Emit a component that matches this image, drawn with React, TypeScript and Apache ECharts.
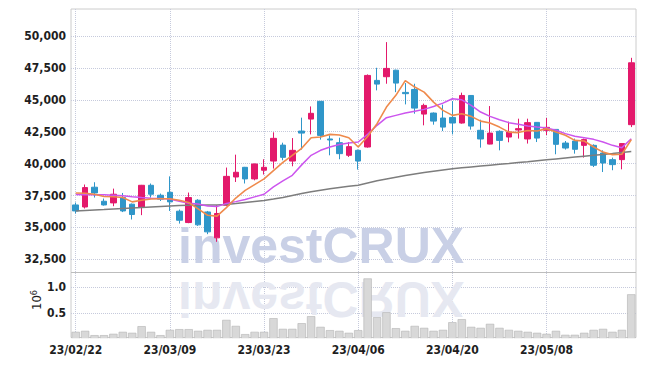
import React, { useEffect, useRef } from "react";
import * as echarts from "echarts";

const dates = [
  "23/02/22", "23/02/23", "23/02/24", "23/02/27", "23/02/28",
  "23/03/02", "23/03/03", "23/03/06", "23/03/07", "23/03/08",
  "23/03/09", "23/03/10", "23/03/13", "23/03/14", "23/03/15",
  "23/03/16", "23/03/17", "23/03/20", "23/03/21", "23/03/22",
  "23/03/23", "23/03/24", "23/03/27", "23/03/28", "23/03/29",
  "23/03/30", "23/03/31", "23/04/03", "23/04/04", "23/04/05",
  "23/04/06", "23/04/07", "23/04/10", "23/04/11", "23/04/12",
  "23/04/13", "23/04/14", "23/04/17", "23/04/18", "23/04/19",
  "23/04/20", "23/04/21", "23/04/24", "23/04/25", "23/04/26",
  "23/04/27", "23/04/28", "23/05/02", "23/05/03", "23/05/04",
  "23/05/08", "23/05/09", "23/05/10", "23/05/11", "23/05/12",
  "23/05/15", "23/05/16", "23/05/17", "23/05/18", "23/05/19",
];

const opens = [
  36760, 36600, 38150, 37050, 36920, 37340, 36820, 36560, 38300, 37520,
  37750, 36270, 35380, 37130, 36210, 34180, 36740, 38950, 39710, 38800,
  39480, 40200, 41450, 40200, 42550, 43490, 44880, 41930, 41640, 40650,
  41040, 41300, 46520, 46810, 47320, 45580, 45810, 43880, 43960, 43570,
  43620, 43180, 45340, 42610, 41530, 42530, 42080, 42630, 41930, 43230,
  42610, 42680, 41610, 41770, 41430, 41430, 40830, 40310, 40310, 43050,
];
const closes = [
  36290, 38120, 37700, 36760, 37600, 36290, 36010, 38300, 37600, 37210,
  37000, 35560, 37340, 35200, 34650, 36090, 39000, 39320, 38800, 39970,
  39710, 41980, 40490, 41040, 42390, 43940, 42210, 41850, 40780, 41330,
  40200, 46910, 46230, 47460, 46310, 45480, 44350, 44560, 43330, 42860,
  43180, 45340, 42940, 41930, 42390, 41820, 42470, 42740, 43210, 42000,
  42840, 41510, 41220, 41120, 41880, 39870, 40050, 39920, 41570, 47900,
];
const lows = [
  36090, 36480, 37340, 36710, 36660, 36200, 35620, 35960, 37340, 37070,
  36290, 35300, 35330, 35120, 34470, 33870, 36700, 38560, 38440, 38690,
  39140, 39610, 40260, 39790, 41100, 42290, 41880, 40650, 40340, 40520,
  39530, 41250, 45740, 46260, 45600, 44640, 43910, 43000, 43050, 42550,
  42290, 43130, 42660, 41250, 41510, 41040, 41670, 41960, 41570, 41690,
  42240, 40730, 41100, 40780, 40470, 39730, 39340, 39480, 39550, 42860,
];
const highs = [
  36950, 38360, 38540, 37260, 38040, 37700, 36870, 38330, 38440, 37650,
  39000, 36400, 37730, 37210, 36290, 36740, 39690, 40700, 39740, 40000,
  40340, 42450, 41640, 42000, 43600, 44480, 44900, 42210, 42030, 41690,
  41100, 46990, 47510, 49520, 47360, 46310, 46260, 44700, 44010, 44620,
  44900, 45560, 45370, 43440, 44510, 42610, 43290, 43520, 43520, 43260,
  43570, 42700, 41770, 41960, 41960, 41510, 41040, 40470, 41610, 48290,
];

const ma5 = [
  37700, 37680, 37600, 37420, 37400, 37340, 37000, 37130, 37230, 37240,
  37250, 37130, 36950, 36450, 35950, 35880, 36550, 37300, 37900, 38350,
  38800, 39450, 40100, 40650, 41200, 42030, 42080, 42290, 42240, 42030,
  41300, 42130, 43130, 44430, 45350, 46500, 46000, 45600, 44820, 44170,
  43780, 43910, 43700, 43330, 43180, 42860, 42470, 42430, 42600, 42550,
  42740, 42470, 42220, 41820, 41770, 41300, 40900, 40700, 40730, 41880,
];
const ma10 = [
  37570, 37550, 37550, 37550, 37520, 37480, 37400, 37340, 37290, 37260,
  37220, 37050, 36900, 36830, 36680, 36630, 36880, 37020, 37180, 37390,
  37600, 38170, 38640, 39080, 39900, 40650, 41040, 41300, 41490, 41610,
  41690, 42290, 43000, 43600, 43780, 43960, 44110, 44250, 44480, 44740,
  45080, 45000, 44560, 44040, 43700, 43440, 43210, 43080, 42950, 42860,
  42790, 42610, 42350, 42140, 42030, 41900, 41690, 41430, 41250, 41950,
];
const ma60 = [
  36290, 36330, 36370, 36400, 36440, 36480, 36520, 36560, 36600, 36640,
  36680, 36710, 36730, 36740, 36750, 36760, 36800, 36870, 36950, 37030,
  37100, 37220, 37350, 37500, 37650, 37800, 37920, 38030, 38130, 38220,
  38300, 38480, 38650, 38800, 38930, 39060, 39180, 39300, 39400, 39500,
  39600, 39670, 39740, 39810, 39880, 39950, 40010, 40080, 40150, 40230,
  40300, 40370, 40440, 40510, 40580, 40650, 40720, 40790, 40870, 40950,
];

// volume in millions of shares (axis unit 10^6)
const volumes = [
  0.147, 0.166, 0.083, 0.083, 0.109, 0.147, 0.128, 0.255, 0.147, 0.083,
  0.185, 0.198, 0.198, 0.166, 0.185, 0.185, 0.376, 0.261, 0.103, 0.147,
  0.147, 0.408, 0.204, 0.204, 0.312, 0.446, 0.242, 0.179, 0.166, 0.128,
  0.179, 1.17, 0.427, 0.522, 0.217, 0.166, 0.261, 0.223, 0.166, 0.185,
  0.331, 0.389, 0.242, 0.223, 0.3, 0.223, 0.185, 0.166, 0.147, 0.128,
  0.109, 0.166, 0.09, 0.09, 0.128, 0.185, 0.204, 0.147, 0.185, 0.866,
];

const UP = "#e3196b";
const DOWN = "#2f96c9";
const GRID_COLOR = "#c6cadc";
const LABEL_FONT = "'DejaVu Sans Condensed', sans-serif";
const LABEL_COLOR = "#1e1e1e";

export default function App() {
  const ref = useRef<HTMLDivElement>(null);

  useEffect(() => {
    if (!ref.current) return;
    const chart = echarts.init(ref.current, undefined, { renderer: "svg" });
    const candleData = dates.map((_, i) => [opens[i], closes[i], lows[i], highs[i]]);
    const left = 71;
    const width = 565;
    const labelStyle = {
      color: LABEL_COLOR, fontFamily: LABEL_FONT, fontSize: 12, fontWeight: "bold",
    };
    const option: any = {
      animation: false,
      backgroundColor: "#ffffff",
      grid: [
        { left, width, top: 9, height: 328.5, show: true, borderColor: "#cccccc", borderWidth: 1, backgroundColor: "transparent" },
        { left, width, top: 36, height: 223.3 },
        { left, width, top: 287.3, height: 52.2 },
      ],
      xAxis: [
        {
          type: "category", gridIndex: 0, data: dates, boundaryGap: true,
          axisLine: { show: false }, axisTick: { show: false },
          axisLabel: {
            interval: (i: number) => i % 10 === 0,
            ...labelStyle, margin: 6,
          },
          splitLine: {
            show: true, alignWithLabel: true,
            interval: (i: number) => i % 10 === 0,
            lineStyle: { color: GRID_COLOR, type: "dotted", width: 1 },
          },
        },
        { type: "category", gridIndex: 1, data: dates, boundaryGap: true, show: false },
        { type: "category", gridIndex: 2, data: dates, boundaryGap: true, show: false },
      ],
      yAxis: [
        { type: "value", gridIndex: 0, min: 0, max: 1, show: false },
        {
          type: "value", gridIndex: 1, min: 32500, max: 50000, interval: 2500,
          axisLine: { show: false }, axisTick: { show: false },
          axisLabel: {
            formatter: (v: number) => v.toLocaleString("en-US"),
            ...labelStyle, margin: 5,
          },
          splitLine: { show: true, lineStyle: { color: GRID_COLOR, type: "dotted", width: 1 } },
        },
        {
          type: "value", gridIndex: 2, min: 0, max: 1, interval: 0.5,
          axisLine: { show: false }, axisTick: { show: false },
          axisLabel: {
            showMinLabel: false,
            formatter: (v: number) => v.toFixed(1),
            ...labelStyle, margin: 5,
          },
          splitLine: { show: true, lineStyle: { color: GRID_COLOR, type: "dotted", width: 1 } },
        },
      ],
      series: [
        {
          type: "candlestick", xAxisIndex: 1, yAxisIndex: 1, data: candleData,
          barWidth: 6, clip: false, z: 2,
          itemStyle: { color: UP, color0: DOWN, borderColor: UP, borderColor0: DOWN, borderWidth: 1 },
        },
        {
          type: "line", xAxisIndex: 1, yAxisIndex: 1, data: ma60, symbol: "none", z: 3,
          lineStyle: { color: "#7d7d7d", width: 1.5 },
        },
        {
          type: "line", xAxisIndex: 1, yAxisIndex: 1, data: ma10, symbol: "none", z: 3,
          lineStyle: { color: "#cc55ee", width: 1.5 },
        },
        {
          type: "line", xAxisIndex: 1, yAxisIndex: 1, data: ma5, symbol: "none", z: 3,
          lineStyle: { color: "#ef8a4c", width: 1.6 },
        },
        {
          type: "bar", xAxisIndex: 2, yAxisIndex: 2, data: volumes, barWidth: "88%", clip: false, z: 2,
          itemStyle: { color: "#d8d8d8", borderColor: "#b3b3b3", borderWidth: 0.6 },
        },
      ],
      graphic: [
        {
          type: "text", x: 178, y: 271, z: 1, silent: true,
          style: {
            text: "investCRUX", x: 0, y: 0, align: "left", verticalAlign: "bottom",
            font: "bold 50px 'Liberation Sans', sans-serif", fill: "#c9d0e6",
          },
        },
        {
          type: "text", x: 178, y: 274, scaleY: -1, z: 1, silent: true,
          style: {
            text: "investCRUX", x: 0, y: 0, align: "left", verticalAlign: "bottom",
            font: "bold 50px 'Liberation Sans', sans-serif", fill: "#e6e8f1",
          },
        },
        {
          type: "line", z: 5, silent: true,
          shape: { x1: left, y1: 272.5, x2: left + width, y2: 272.5 },
          style: { stroke: "#bdbdbd", lineWidth: 1 },
        },
        {
          type: "rect", z: 10, silent: true,
          shape: { x: left - 1, y: 338.2, width: width + 2, height: 4 },
          style: { fill: "#ffffff" },
        },
        {
          type: "text", x: 36, y: 300, rotation: Math.PI / 2, z: 5, silent: true,
          style: {
            text: "{b|10}{s|6}", align: "center", verticalAlign: "middle",
            rich: {
              b: { fontFamily: LABEL_FONT, fontSize: 13, fill: LABEL_COLOR, verticalAlign: "bottom" },
              s: { fontFamily: LABEL_FONT, fontSize: 9, fill: LABEL_COLOR, verticalAlign: "top" },
            },
          },
        },
      ],
    };
    chart.setOption(option);
    return () => chart.dispose();
  }, []);

  return (
    <div
      ref={ref}
      style={{ position: "fixed", left: 0, top: 0, width: 645, height: 366 }}
    />
  );
}
